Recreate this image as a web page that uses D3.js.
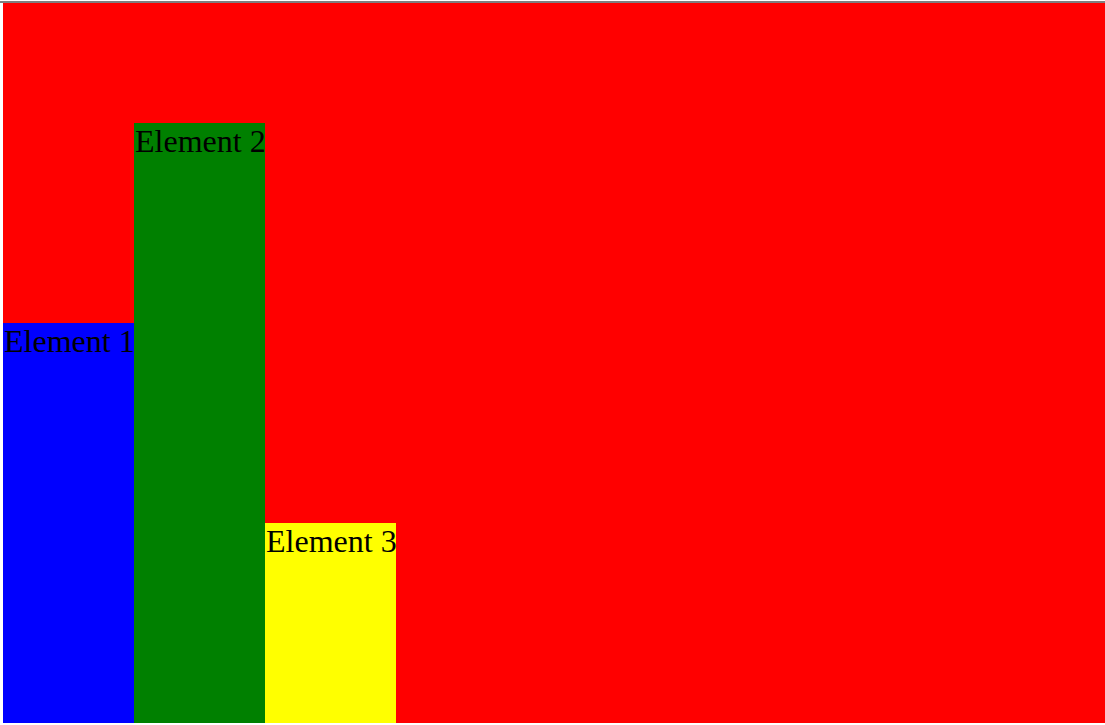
<!DOCTYPE html>
<html lang="en">
<head>
<meta charset="utf-8">
<script src="https://d3js.org/d3.v7.min.js"></script>
<style>
html, body {
    margin: 0;
    padding: 0;
    background: #fff;
}
#topline {
    position: absolute;
    left: 0;
    top: 1px;
    width: 1105px;
    height: 2px;
    background: #808080;
}
#chart {
    position: absolute;
    left: 3px;
    top: 3px;
}
.label {
    font-family: "Liberation Serif", "DejaVu Serif", serif;
    font-size: 32px;
    fill: #000;
}
</style>
</head>
<body>
<div id="topline"></div>
<div id="chart"></div>
<script>
    var names = ["Element 1", "Element 2", "Element 3"];
    var values = [20, 30, 10];
    var colors = ["blue", "green", "yellow"];

    var width = 1102,
        height = 720;

    var x = d3.scaleBand()
        .domain(names)
        .range([0, 393])
        .padding(0);

    var y = d3.scaleLinear()
        .domain([0, 36])
        .range([height, 0]);

    var svg = d3.select("#chart")
        .append("svg")
        .attr("width", width)
        .attr("height", height);

    svg.append("rect")
        .attr("width", width)
        .attr("height", height)
        .attr("fill", "red");

    var bar = svg.selectAll(".bar")
        .data(names)
        .enter()
        .append("g")
        .attr("class", "bar");

    bar.append("rect")
        .attr("x", function (d) { return x(d); })
        .attr("y", function (d, i) { return y(values[i]); })
        .attr("width", x.bandwidth())
        .attr("height", function (d, i) { return height - y(values[i]); })
        .attr("fill", function (d, i) { return colors[i]; });

    bar.append("text")
        .attr("class", "label")
        .attr("x", function (d) { return x(d) + 1; })
        .attr("y", function (d, i) { return y(values[i]) + 29; })
        .text(function (d) { return d; });
</script>
</body>
</html>
